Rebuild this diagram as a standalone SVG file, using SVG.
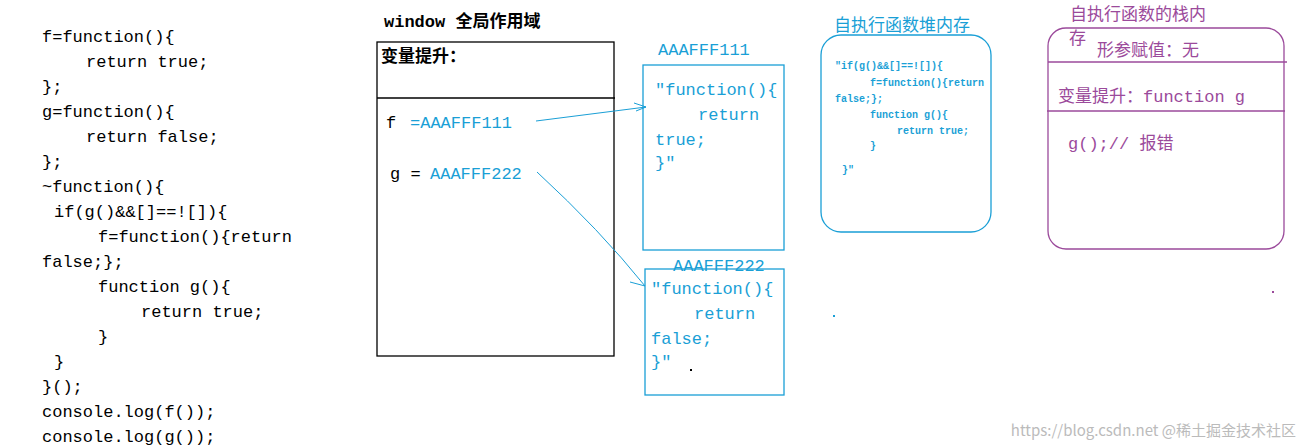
<svg xmlns="http://www.w3.org/2000/svg" width="1307" height="446" viewBox="0 0 1307 446">
<style>
.c{font-family:"Liberation Mono","Noto Sans CJK SC",monospace;font-size:17px;fill:#000}
.b{font-family:"Liberation Mono","Noto Sans CJK SC",monospace;font-size:17px;fill:#1a9fd6}
.s{font-family:"Liberation Mono",monospace;font-size:10px;font-weight:bold;fill:#1a9fd6}
.p{font-family:"Liberation Mono","Noto Sans CJK SC",monospace;font-size:17px;fill:#9b4a9b}
.box{fill:none;stroke:#1a9fd6;stroke-width:1.3}
</style>
<rect width="1307" height="446" fill="#fff"/>
<g id="code">
<text class="c" x="42" y="42">f=function(){</text>
<text class="c" x="86" y="67">return true;</text>
<text class="c" x="42" y="92">};</text>
<text class="c" x="42" y="117">g=function(){</text>
<text class="c" x="86" y="142">return false;</text>
<text class="c" x="42" y="167">};</text>
<text class="c" x="42" y="192">~function(){</text>
<text class="c" x="54" y="217">if(g()&amp;&amp;[]==![]){</text>
<text class="c" x="98" y="242">f=function(){return</text>
<text class="c" x="42" y="267">false;};</text>
<text class="c" x="98" y="292">function g(){</text>
<text class="c" x="141" y="317">return true;</text>
<text class="c" x="98" y="342">}</text>
<text class="c" x="54" y="367">}</text>
<text class="c" x="42" y="392">}();</text>
<text class="c" x="42" y="417">console.log(f());</text>
<text class="c" x="42" y="442">console.log(g());</text>
</g>
<g id="window">
<text class="c" x="384" y="27" font-weight="bold">window 全局作用域</text>
<rect x="377" y="42" width="237" height="314" fill="none" stroke="#000" stroke-width="1.3"/>
<line x1="377" y1="98" x2="615" y2="98" stroke="#000" stroke-width="1.3"/>
<text class="c" x="381" y="62" font-weight="bold">变量提升：</text>
<text class="c" x="386" y="128">f</text>
<text class="b" x="410" y="128">=AAAFFF111</text>
<text class="c" x="390" y="179">g =</text>
<text class="b" x="430" y="179">AAAFFF222</text>
</g>
<g id="heap1">
<text class="b" x="658" y="55">AAAFFF111</text>
<rect class="box" x="643" y="65" width="141" height="185"/>
<text class="b" x="655" y="95">″function(){</text>
<text class="b" x="698" y="120">return</text>
<text class="b" x="655" y="145">true;</text>
<text class="b" x="655" y="168">}″</text>
</g>
<g id="heap2">
<text class="b" x="673" y="271">AAAFFF222</text>
<rect class="box" x="645" y="269" width="139" height="126"/>
<text class="b" x="651" y="294">″function(){</text>
<text class="b" x="694" y="319">return</text>
<text class="b" x="651" y="344">false;</text>
<text class="b" x="651" y="367">}″</text>
<rect x="690" y="369" width="2" height="2" fill="#000"/>
</g>
<g id="selfheap">
<text class="b" x="834" y="31">自执行函数堆内存</text>
<rect class="box" x="821" y="35" width="170" height="197" rx="20"/>
<text class="s" x="835" y="69">″if(g()&amp;&amp;[]==![]){</text>
<text class="s" x="870" y="86">f=function(){return</text>
<text class="s" x="835" y="102">false;};</text>
<text class="s" x="870" y="118">function g(){</text>
<text class="s" x="897" y="134">return true;</text>
<text class="s" x="870" y="149">}</text>
<text class="s" x="842" y="173">}″</text>
</g>
<g id="selfstack">
<text class="p" x="1070" y="20">自执行函数的栈内</text>
<text class="p" x="1069" y="44">存</text>
<rect x="1048" y="28" width="236" height="221" rx="18" fill="none" stroke="#9b4a9b" stroke-width="1.3"/>
<text class="p" x="1097" y="56">形参赋值：无</text>
<line x1="1048" y1="62" x2="1287" y2="62" stroke="#9b4a9b" stroke-width="1.3"/>
<text class="p" x="1058" y="102">变量提升：function g</text>
<line x1="1047" y1="111" x2="1285" y2="111" stroke="#9b4a9b" stroke-width="1.3"/>
<text class="p" x="1068" y="149">g();// 报错</text>
</g>
<g id="connectors" fill="none" stroke="#1a9fd6" stroke-width="1">
<path d="M536 121 L646 107 M634 103 L646 107 L636 111"/>
<path d="M537 172 Q600 230 645 286 M630 282 L645 286"/>
</g>
<rect x="1272" y="291" width="2" height="2" fill="#9b4a9b"/>
<rect x="833" y="315" width="2" height="2" fill="#1a9fd6"/>
<text x="1296" y="436" text-anchor="end" font-family="'Noto Sans CJK SC',sans-serif" font-size="15" fill="#bbb">https://blog.csdn.net @稀土掘金技术社区</text>
</svg>
